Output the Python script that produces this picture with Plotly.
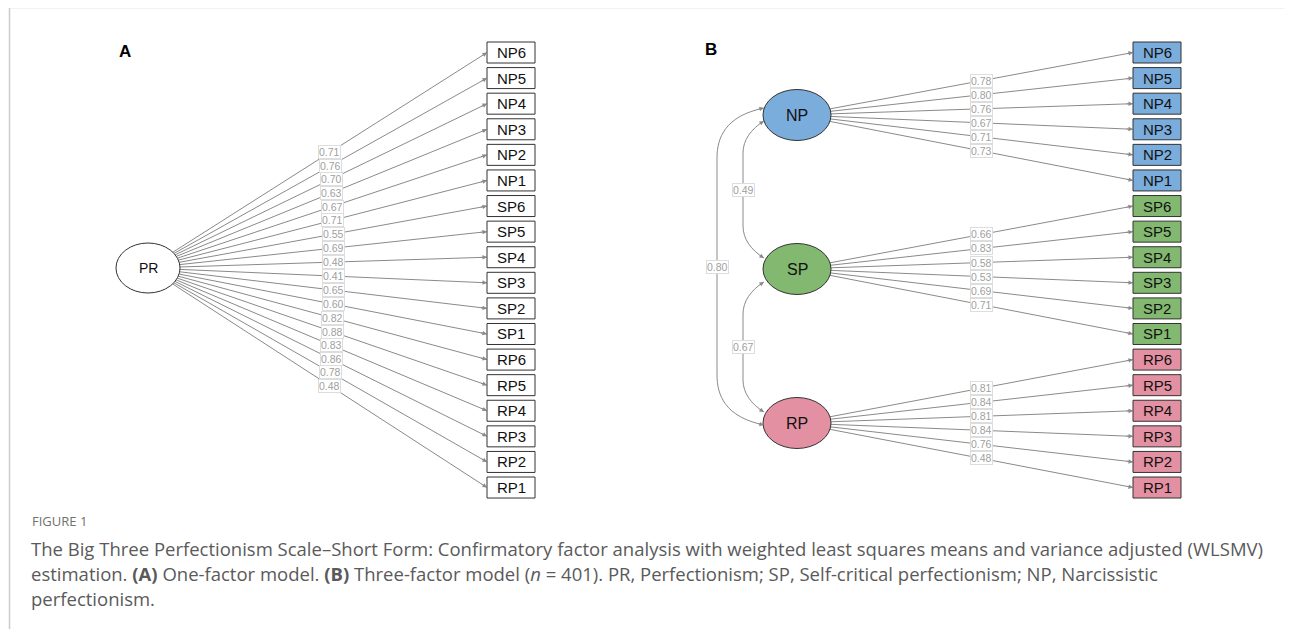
import plotly.graph_objects as go
import math

# ---------------- data ----------------
indicators = ["NP6", "NP5", "NP4", "NP3", "NP2", "NP1",
              "SP6", "SP5", "SP4", "SP3", "SP2", "SP1",
              "RP6", "RP5", "RP4", "RP3", "RP2", "RP1"]
loadings_one_factor = [0.71, 0.76, 0.70, 0.63, 0.67, 0.71,
                       0.55, 0.69, 0.48, 0.41, 0.65, 0.60,
                       0.82, 0.88, 0.83, 0.86, 0.78, 0.48]
factors_three = ["NP", "SP", "RP"]
loadings_np = [0.78, 0.80, 0.76, 0.67, 0.71, 0.73]
loadings_sp = [0.66, 0.83, 0.58, 0.53, 0.69, 0.71]
loadings_rp = [0.81, 0.84, 0.81, 0.84, 0.76, 0.48]
cov_pairs = [("NP", "SP"), ("NP", "RP"), ("SP", "RP")]
cov_values = [0.49, 0.80, 0.67]

caption_head = "FIGURE 1"
caption_lines = [
    "The Big Three Perfectionism Scale\u2013Short Form: Confirmatory factor analysis with weighted least squares means and variance adjusted (WLSMV)",
    "estimation. <b>(A)</b> One-factor model. <b>(B)</b> Three-factor model (<i>n</i> = 401). PR, Perfectionism; SP, Self-critical perfectionism; NP, Narcissistic",
    "perfectionism.",
]

# ---------------- layout geometry ----------------
W, H = 1292, 637
OFF = 8  # page body margin
box_w, box_h = 48, 21
y_top, y_step = 52.5, 25.59
boxA_x0, boxB_x0 = 487, 1133
fill_colors = {"NP": "#7AACDC", "SP": "#82B86F", "RP": "#E391A2"}
edge_col = "#8a8a8a"
lab_font = dict(family="Liberation Sans, Arial", size=10.5, color="#a0a0a0")

fig = go.Figure()
shapes, annos = [], []


def ell_edge(cx, cy, a, b, tx, ty):
    dx, dy = tx - cx, ty - cy
    t = 1.0 / math.sqrt((dx / a) ** 2 + (dy / b) ** 2)
    return cx + t * dx, cy + t * dy


def add_box(x0, yc, text, fill):
    shapes.append(dict(type="rect", xref="x", yref="y", x0=x0, x1=x0 + box_w,
                       y0=yc - box_h / 2, y1=yc + box_h / 2,
                       line=dict(color="#333333", width=1), fillcolor=fill, layer="above"))
    annos.append(dict(x=x0 + box_w / 2, y=yc, text=text, showarrow=False,
                      font=dict(family="Liberation Sans, Arial", size=15, color="#111"),
                      xref="x", yref="y"))


def add_ellipse(cx, cy, a, b, text, fill, size=14):
    shapes.append(dict(type="circle", xref="x", yref="y", x0=cx - a, x1=cx + a,
                       y0=cy - b, y1=cy + b, line=dict(color="#333333", width=1),
                       fillcolor=fill, layer="above"))
    annos.append(dict(x=cx, y=cy, text=text, showarrow=False,
                      font=dict(family="Liberation Sans, Arial", size=size, color="#111"),
                      xref="x", yref="y"))


def add_edge(sx, sy, tx, ty, value):
    fig.add_trace(go.Scatter(x=[sx, tx], y=[sy, ty], mode="lines",
                             line=dict(color=edge_col, width=1), hoverinfo="skip",
                             showlegend=False))
    L = math.hypot(tx - sx, ty - sy)
    ux, uy = (tx - sx) / L, (ty - sy) / L
    annos.append(dict(x=tx, y=ty, ax=tx - 8 * ux, ay=ty - 8 * uy, axref="x", ayref="y",
                      xref="x", yref="y", text="", showarrow=True, arrowhead=2,
                      arrowsize=0.9, arrowwidth=1, arrowcolor=edge_col, standoff=0))
    mx, my = sx + 0.5 * (tx - sx), sy + 0.5 * (ty - sy)
    annos.append(dict(x=mx, y=my, text=f"{value:.2f}", showarrow=False, font=lab_font,
                      bgcolor="white", bordercolor="#dddddd", borderwidth=1, borderpad=0,
                      xref="x", yref="y"))


# ---------------- Panel A ----------------
annos.append(dict(x=125, y=51, text="<b>A</b>", showarrow=False,
                  font=dict(family="Liberation Sans, Arial", size=17, color="#000"),
                  xref="x", yref="y"))
prx, pry, pra, prb = 148, 268, 32, 25
for i, (name, v) in enumerate(zip(indicators, loadings_one_factor)):
    yc = y_top + i * y_step
    sx, sy = ell_edge(prx, pry, pra, prb, boxA_x0, yc)
    add_edge(sx, sy, boxA_x0, yc, v)
for i, name in enumerate(indicators):
    add_box(boxA_x0, y_top + i * y_step, name, "white")
add_ellipse(prx, pry, pra, prb, "PR", "white", size=14)

# ---------------- Panel B ----------------
annos.append(dict(x=711, y=49, text="<b>B</b>", showarrow=False,
                  font=dict(family="Liberation Sans, Arial", size=17, color="#000"),
                  xref="x", yref="y"))
fac_pos = {"NP": (797, 115), "SP": (797, 269), "RP": (797, 423)}
fa, fb = 34, 25.5
blocks = {"NP": loadings_np, "SP": loadings_sp, "RP": loadings_rp}
for k, f in enumerate(factors_three):
    cx, cy = fac_pos[f]
    for j, v in enumerate(blocks[f]):
        yc = y_top + (k * 6 + j) * y_step
        sx, sy = ell_edge(cx, cy, fa, fb, boxB_x0, yc)
        add_edge(sx, sy, boxB_x0, yc, v)
for k, f in enumerate(factors_three):
    for j in range(6):
        yc = y_top + (k * 6 + j) * y_step
        add_box(boxB_x0, yc, indicators[k * 6 + j], fill_colors[f])

cov_geom = {
    ("NP", "SP"): dict(xc=743, y0=fac_pos["NP"][1] + 6, y1=fac_pos["SP"][1] - 11),
    ("NP", "RP"): dict(xc=717, y0=fac_pos["NP"][1] - 7, y1=fac_pos["RP"][1] + 2),
    ("SP", "RP"): dict(xc=743, y0=fac_pos["SP"][1] + 13, y1=fac_pos["RP"][1] - 11),
}
for (a, b), v in zip(cov_pairs, cov_values):
    g = cov_geom[(a, b)]
    xs = 764
    xc, y0, y1 = g["xc"], g["y0"], g["y1"]
    r = 50 if xc < 730 else 32
    path = (f"M {xs},{y0} C {xc + 8},{y0 + 8} {xc},{y0 + r * 0.6} {xc},{y0 + r} "
            f"L {xc},{y1 - r} C {xc},{y1 - r * 0.6} {xc + 8},{y1 - 8} {xs},{y1}")
    shapes.append(dict(type="path", path=path, xref="x", yref="y",
                       line=dict(color=edge_col, width=1)))
    for (px, py, qx, qy) in [(xs, y0, xc + 8, y0 + 8), (xs, y1, xc + 8, y1 - 8)]:
        L = math.hypot(px - qx, py - qy)
        ux, uy = (px - qx) / L, (py - qy) / L
        annos.append(dict(x=px, y=py, ax=px - 7 * ux, ay=py - 7 * uy, axref="x", ayref="y",
                          xref="x", yref="y", text="", showarrow=True, arrowhead=2,
                          arrowsize=0.9, arrowwidth=1, arrowcolor=edge_col, standoff=0))
    annos.append(dict(x=xc, y=(y0 + y1) / 2, text=f"{v:.2f}", showarrow=False, font=lab_font,
                      bgcolor="white", bordercolor="#dddddd", borderwidth=1, borderpad=0,
                      xref="x", yref="y"))

for f in factors_three:
    cx, cy = fac_pos[f]
    add_ellipse(cx, cy, fa, fb, f, fill_colors[f], size=16)

# ---------------- frame & caption ----------------
shapes.append(dict(type="line", xref="x", yref="y", x0=9, x1=W, y0=7.5, y1=7.5,
                   line=dict(color="#cccccc", width=1.5)))
shapes.append(dict(type="line", xref="x", yref="y", x0=9.5, x1=9.5, y0=7, y1=H,
                   line=dict(color="#cccccc", width=1.5)))
annos.append(dict(x=30, y=521, text=caption_head, showarrow=False, xanchor="left",
                  font=dict(family="Open Sans", size=13, color="#707070"),
                  xref="x", yref="y"))
for i, line in enumerate(caption_lines):
    annos.append(dict(x=29, y=548 + i * 25, text=line, showarrow=False, xanchor="left",
                      font=dict(family="Open Sans", size=18.5, color="#5a5a5a"),
                      xref="x", yref="y"))

fig.update_layout(
    width=W - OFF, height=H - 2 * OFF, margin=dict(l=0, r=0, t=0, b=0),
    paper_bgcolor="white", plot_bgcolor="white",
    xaxis=dict(range=[OFF, W], visible=False, fixedrange=True),
    yaxis=dict(range=[H - OFF, OFF], visible=False, fixedrange=True),
    shapes=shapes, annotations=annos, showlegend=False,
)
fig.write_html("out.html")
